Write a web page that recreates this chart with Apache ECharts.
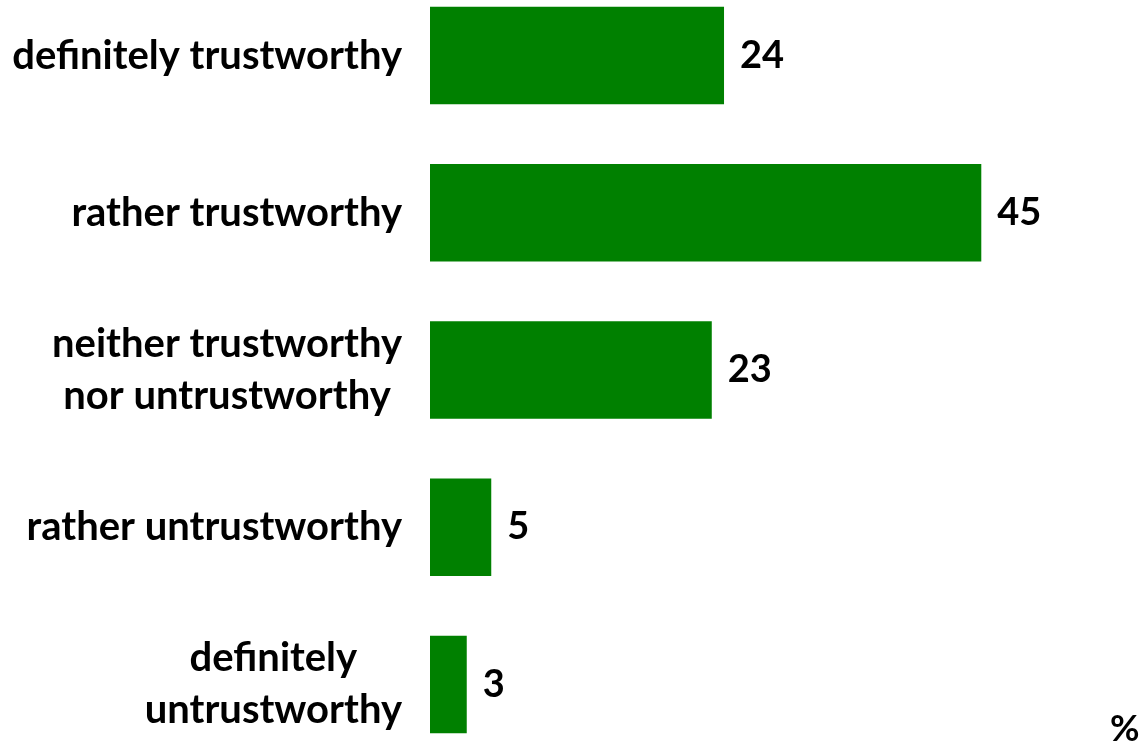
<!DOCTYPE html>
<html>
<head>
<meta charset="utf-8">
<script src="https://cdn.jsdelivr.net/npm/echarts@6/dist/echarts.min.js"></script>
<style>
  html, body { margin: 0; padding: 0; background: #fff; overflow: hidden; }
  #main { width: 1143px; height: 786px; margin-top: -23px; }
</style>
</head>
<body>
<div id="main"></div>
<script>
  // categories top to bottom
  var categories = [
    'definitely trustworthy',
    'rather trustworthy',
    'neither trustworthy\nnor untrustworthy',
    'rather untrustworthy',
    'definitely\nuntrustworthy'
  ];
  var values = [24, 45, 23, 5, 3];
  var unitLabel = '%';

  var fontFam = 'Lato, "Open Sans", sans-serif';
  var chart = echarts.init(document.getElementById('main'));
  chart.setOption({
    backgroundColor: '#ffffff',
    animation: false,
    grid: { left: 430, right: 98, top: 0, bottom: 0, containLabel: false },
    xAxis: {
      type: 'value',
      min: 0,
      max: 50.2,
      show: false
    },
    yAxis: {
      type: 'category',
      inverse: true,
      data: categories,
      axisLine: { show: false },
      axisTick: { show: false },
      splitLine: { show: false },
      axisLabel: {
        margin: 28,
        formatter: function (v) {
          return v.split('\n').map(function (s) { return '{c|' + s + '}'; }).join('\n');
        },
        rich: {
          c: {
            align: 'center',
            fontFamily: fontFam,
            fontWeight: 'bold',
            fontSize: 40,
            lineHeight: 52,
            color: '#000'
          }
        }
      }
    },
    series: [{
      type: 'bar',
      data: values,
      barCategoryGap: '38%',
      itemStyle: { color: '#008000' },
      label: {
        show: true,
        position: 'right',
        distance: 16,
        fontFamily: fontFam,
        fontWeight: 'bold',
        fontSize: 38,
        color: '#000'
      }
    }],
    graphic: [{
      type: 'text',
      left: 1110,
      top: 734,
      style: {
        text: unitLabel,
        fontFamily: fontFam,
        fontWeight: 'bold',
        fontSize: 36,
        fill: '#000'
      }
    }]
  });
</script>
</body>
</html>
